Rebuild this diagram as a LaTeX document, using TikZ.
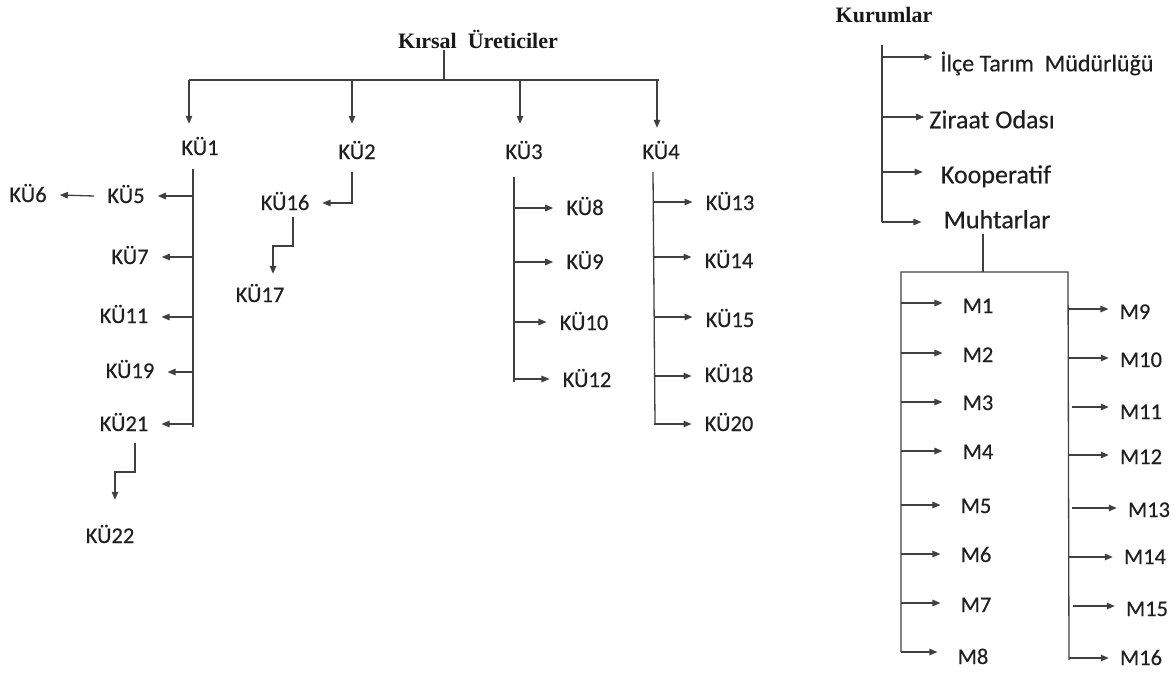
\documentclass[tikz,border=0pt]{standalone}
\usepackage{fontspec}
\setmainfont{Carlito}
\newfontfamily\calfont[FakeBold=0.3]{Carlito}
\newfontfamily\serifb{Liberation Serif}
\usetikzlibrary{arrows.meta}
\begin{document}
\begin{tikzpicture}[x=1pt,y=-1pt,
  ln/.style={line width=1.3pt, draw=black!75},
  arr/.style={ln,-{Triangle[length=8pt,width=6.5pt]}},
  lbl/.style={font=\calfont\fontsize{22.5}{27}\selectfont, text=black!88, inner xsep=13pt, inner ysep=2pt, text height=14pt, text depth=0pt},
  mL/.style={lbl, inner xsep=20pt},
  mR/.style={lbl, inner xsep=11pt},
  kl/.style={lbl, font=\calfont\fontsize{26}{30}\selectfont, text height=16.5pt},
  ttl/.style={font=\serifb\bfseries\fontsize{22}{26}\selectfont, text=black!90, inner sep=2pt}]
\useasboundingbox (0,0) rectangle (1175,673);

% ---------- Kirsal Ureticiler ----------
\node[ttl] (kr) at (478,39) {Kırsal\ \ Üreticiler};
\coordinate (ts) at (444,80);
\draw[ln] (ts |- kr.south) -- (ts);
\coordinate (barL) at (189,80);
\coordinate (barR) at (659,80);
\draw[ln] (barL) -- (barR);

\node[lbl] (ku1) at (200,148) {KÜ1};
\node[lbl] (ku2) at (357,152) {KÜ2};
\node[lbl] (ku3) at (524,152) {KÜ3};
\node[lbl] (ku4) at (661,152) {KÜ4};
\foreach \n/\x/\s in {ku1/189/15, ku2/352/19, ku3/520/19, ku4/657/15}
  \draw[arr, shorten >=\s pt] (\x,80) -- (\x,80 |- \n.north);

% KU1 branch (left)
\draw[ln] (193,169) -- (193,427);
\foreach \n/\t/\x/\y/\a in {ku5/KÜ5/126/196/196, ku7/KÜ7/130/257/257, ku11/KÜ11/124/316/317, ku19/KÜ19/130/371/372, ku21/KÜ21/124/424/424}{
  \node[lbl] (\n) at (\x,\y) {\t};
  \draw[arr] (193,\a) -- (\n.east |- 0,\a);
}
\node[lbl] (ku6) at (28,195) {KÜ6};
\draw[arr] (ku5.west) -- (ku6.east);
\node[lbl] (ku22) at (110,536) {KÜ22};
\coordinate (e21a) at (135,443);
\coordinate (e21b) at (115,472);
\draw[arr, shorten >=27pt] (e21a) |- (e21b) -- (e21b |- ku22.north);

% KU2 branch
\node[lbl] (ku16) at (285,203) {KÜ16};
\draw[arr] (352,172) |- (ku16.east);
\node[lbl] (ku17) at (260,295) {KÜ17};
\coordinate (e16a) at (293,217);
\coordinate (e16b) at (273,246);
\draw[arr, shorten >=12pt] (e16a) |- (e16b) -- (e16b |- ku17.north);

% KU3 branch
\draw[ln] (514,177) -- (514,382);
\foreach \n/\t/\x/\y/\a in {ku8/KÜ8/585/208/208, ku9/KÜ9/585/262/262, ku10/KÜ10/584/323/322, ku12/KÜ12/587/380/379}{
  \node[lbl] (\n) at (\x,\y) {\t};
  \draw[arr] (514,\a) -- (\n.west |- 0,\a);
}

% KU4 branch
\draw[ln] (653,172) -- (655,424);
\foreach \n/\t/\x/\y/\a in {ku13/KÜ13/730/203/202, ku14/KÜ14/729/261/257, ku15/KÜ15/730/320/317, ku18/KÜ18/729/375/376, ku20/KÜ20/729/424/424}{
  \node[lbl] (\n) at (\x,\y) {\t};
  \draw[arr] (654,\a) -- (\n.west |- 0,\a);
}

% ---------- Kurumlar ----------
\node[ttl] (kur) at (884,15) {Kurumlar};
\draw[ln] (882,45) -- (882,222);
\node[kl, font=\calfont\fontsize{24}{28}\selectfont, inner xsep=8pt] (ilce) at (1047,63) {İlçe Tarım\ \ Müdürlüğü};
\node[kl, inner xsep=5pt] (zir) at (992,120) {Ziraat Odası};
\node[kl, inner xsep=18pt] (koop) at (996,175) {Kooperatif};
\node[kl, inner xsep=22pt] (muh) at (997,220) {Muhtarlar};
\foreach \n/\a in {ilce/57, zir/117, koop/172, muh/222}
  \draw[arr] (882,\a) -- (\n.west |- 0,\a);
\coordinate (mst) at (983,272);
\draw[ln] (mst |- muh.south) ++(0,4) -- (mst);
\draw[ln] (901,652) -- (901,272) -- (1068,272) -- (1069,660);

\foreach \n/\t/\x/\y/\a in {m1/M1/978/306/303, m2/M2/978/355/353, m3/M3/978/403/402, m4/M4/978/452/451, m5/M5/976/506/505, m6/M6/976/555/554, m7/M7/976/605/603, m8/M8/973/657/652}{
  \node[mL] (\n) at (\x,\y) {\t};
  \draw[arr] (901,\a) -- (\n.west |- 0,\a);
}
\foreach \n/\t/\x/\y/\a/\s in {m9/M9/1135/312/309/1068, m10/M10/1141/360/358/1068, m11/M11/1141/412/407/1072, m12/M12/1141/457/455/1068, m13/M13/1149/510/508/1072, m14/M14/1145/557/557/1068, m15/M15/1147/609/606/1073, m16/M16/1141/658/658/1069}{
  \node[mR] (\n) at (\x,\y) {\t};
  \draw[arr] (\s,\a) -- (\n.west |- 0,\a);
}
\end{tikzpicture}
\end{document}
